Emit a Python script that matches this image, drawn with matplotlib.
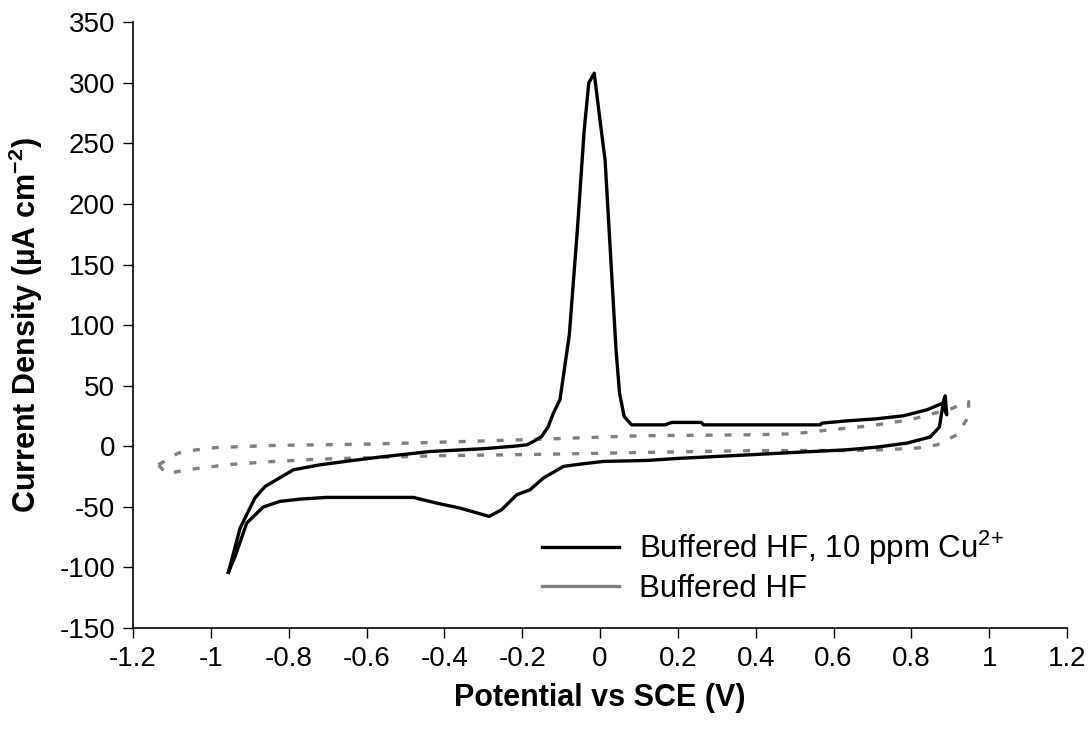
import matplotlib
matplotlib.use("Agg")
import matplotlib.pyplot as plt
from matplotlib.lines import Line2D

plt.rcParams['font.family'] = ['Liberation Sans', 'DejaVu Sans']
plt.rcParams['axes.unicode_minus'] = False
plt.rcParams['mathtext.fontset'] = 'custom'
plt.rcParams['mathtext.rm'] = 'Liberation Sans'
plt.rcParams['mathtext.bf'] = 'Liberation Sans:bold'
plt.rcParams['mathtext.default'] = 'regular'

# Buffered HF + 10 ppm Cu2+ (closed CV loop)
cu_potential = [-0.955, -0.925, -0.887, -0.861, -0.788, -0.720, -0.643, -0.566, -0.437,
                -0.300, -0.223, -0.188, -0.171, -0.150, -0.133, -0.120, -0.103, -0.079,
                -0.058, -0.041, -0.029, -0.015, 0.000, 0.013, 0.041, 0.050, 0.062,
                0.081, 0.167, 0.184, 0.260, 0.266, 0.400, 0.566, 0.570, 0.634, 0.711,
                0.780, 0.840, 0.881, 0.887, 0.891, 0.881, 0.872, 0.848, 0.788, 0.711,
                0.634, 0.497, 0.386, 0.200, 0.120, 0.009, -0.043, -0.094, -0.146,
                -0.180, -0.214, -0.253, -0.285, -0.360, -0.420, -0.480, -0.566, -0.703,
                -0.771, -0.823, -0.866, -0.908, -0.938, -0.955]
cu_current = [-104, -67.5, -42.7, -33.2, -19.4, -15.3, -12.0, -8.9, -4.3,
              -2.0, 0.0, 1.2, 4.0, 8.1, 16.3, 27.4, 38.4, 92,
              180, 260, 300, 308, 269, 236, 80, 44, 24.6,
              17.7, 17.7, 19.7, 19.7, 17.7, 17.7, 17.7, 19.1, 21.0, 22.7,
              25.2, 30.1, 35.6, 41.7, 26.0, 34.0, 15.8, 7.6, 2.6, -0.7,
              -2.9, -5.1, -7.0, -10.0, -11.7, -12.5, -14.4, -16.6, -26.3,
              -35.9, -40.0, -52.4, -57.9, -51.0, -46.9, -42.2, -42.2, -42.2,
              -43.6, -45.5, -50.2, -63.4, -91.0, -104]

# Buffered HF without copper (closed CV loop)
hf_potential = [-1.135, -1.084, -1.037, -0.985, -0.840, -0.591, -0.343, -0.146, 0.103,
                0.386, 0.497, 0.591, 0.694, 0.797, 0.866, 0.900, 0.947, 0.947, 0.917,
                0.866, 0.814, 0.728, 0.643, 0.400, 0.111, -0.129, -0.420, -0.720,
                -0.866, -0.960, -1.062, -1.114, -1.135]
hf_current = [-15.3, -5.6, -2.9, -1.0, 0.7, 1.8, 4.0, 5.9, 8.7,
              9.5, 10.3, 13.6, 16.9, 21.9, 27.9, 30.7, 37.0, 24.6, 9.5,
              1.2, -1.5, -2.9, -3.5, -3.5, -5.1, -6.5, -7.8, -10.6,
              -13.0, -15.3, -19.4, -22.7, -15.3]

x_ticks = [-1.2, -1, -0.8, -0.6, -0.4, -0.2, 0, 0.2, 0.4, 0.6, 0.8, 1, 1.2]
x_labels = ['-1.2', '-1', '-0.8', '-0.6', '-0.4', '-0.2', '0', '0.2', '0.4', '0.6', '0.8', '1', '1.2']
y_ticks = list(range(-150, 351, 50))

fig = plt.figure(figsize=(10.91, 7.35), dpi=100)
ax = fig.add_axes([0.122, 0.1456, 0.856, 0.824])

ax.plot(hf_potential, hf_current, color='#808080', lw=2.4,
        dashes=(2.1, 3.6), solid_capstyle='butt')
ax.plot(cu_potential, cu_current, color='black', lw=2.4)

ax.set_xlim(-1.2, 1.2)
ax.set_ylim(-150, 350)
ax.set_xticks(x_ticks)
ax.set_xticklabels(x_labels)
ax.set_yticks(y_ticks)

for side in ['top', 'right']:
    ax.spines[side].set_visible(False)
for side in ['left', 'bottom']:
    ax.spines[side].set_linewidth(1.2)
ax.tick_params(direction='out', length=7, width=1, labelsize=20, pad=6)

ax.set_xlabel('Potential vs SCE (V)', fontsize=22, fontweight='bold', labelpad=8)
ax.set_ylabel('Current Density (\u00b5A cm$^{\\mathbf{-2}}$)', fontsize=22,
              fontweight='bold', labelpad=10)

handles = [Line2D([], [], color='black', lw=2.4),
           Line2D([], [], color='#808080', lw=2.4)]
ax.legend(handles, ['Buffered HF, 10 ppm Cu$^{2\\!+}$', 'Buffered HF'],
          loc='center left', bbox_to_anchor=(0.408, 0.1015), frameon=False,
          fontsize=22.5, handlelength=2.45, handletextpad=0.65, labelspacing=0.22)

fig.savefig('out.png', dpi=100)
